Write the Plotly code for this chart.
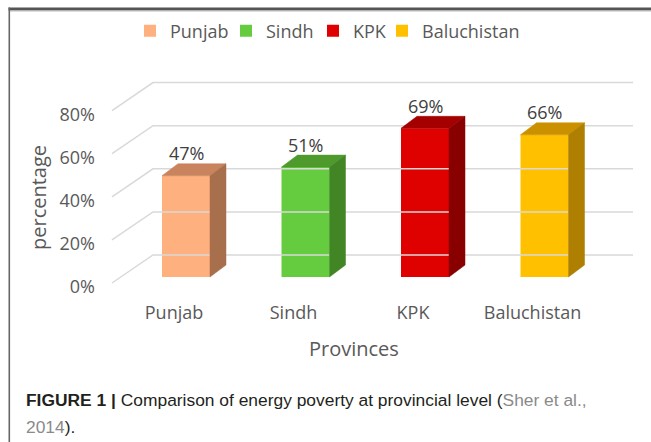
import plotly.graph_objects as go

# ---------------- data ----------------
provinces = ["Punjab", "Sindh", "KPK", "Baluchistan"]
values = [47, 51, 69, 66]
value_labels = ["47%", "51%", "69%", "66%"]
front_colors = ["#FFB07F", "#66CC3F", "#DF0000", "#FFC000"]
top_colors = ["#C9835D", "#4E9A2C", "#A50000", "#CB9000"]
side_colors = ["#A86F4C", "#418524", "#880000", "#AE7F00"]
y_ticks = [0, 20, 40, 60, 80]
y_tick_labels = ["0%", "20%", "40%", "60%", "80%"]

# ---------------- geometry (oblique 3-D look) ----------------
W, H = 651, 442
L, R, T, B = 98, 645, 60, 300          # plot area in px
PX_X = 119.5                            # px per category
PX_Y = 2.155                            # px per percent
X0_PX = 174                             # px of first category
Y0_PX = 283                             # px of 0% on front plane

xr = [(L - X0_PX) / PX_X, (R - X0_PX) / PX_X]
yr = [(Y0_PX - B) / PX_Y, (Y0_PX - T) / PX_Y]

wall_dx = 41 / PX_X
wall_dy = 28 / PX_Y
grid_x_front = (112 - X0_PX) / PX_X
grid_x_right = (633 - X0_PX) / PX_X

bar_shift = 12 / PX_X
bar_w = 48 / PX_X
bar_base = 6 / PX_Y
depth_dx = 16 / PX_X
depth_dy = 12 / PX_Y

# legend entry left edges (px) of the colour squares
legend_square_px = [147, 243, 330, 399]

TXT = "#595959"
FONT = "Open Sans, Noto Sans, sans-serif"


def px_x(p):
    return (p - L) / (R - L)


def px_y(p):
    return (B - p) / (B - T)


fig = go.Figure()

# gridlines: front diagonal + back wall horizontal
gx, gy = [], []
for v in y_ticks:
    gx += [grid_x_front, grid_x_front + wall_dx, grid_x_right, None]
    gy += [v, v + wall_dy, v + wall_dy, None]
fig.add_trace(go.Scatter(x=gx, y=gy, mode="lines", line=dict(color="#D9D9D9", width=1.5),
                         hoverinfo="skip", showlegend=False))

# bars: front faces (legend), top and side faces
legend_keys = ["legend", "legend2", "legend3", "legend4"]
for i, (name, v) in enumerate(zip(provinces, values)):
    xc = i + bar_shift
    fig.add_trace(go.Bar(x=[xc], y=[v], base=[bar_base], width=[bar_w], name=name,
                         legend=legend_keys[i],
                         marker=dict(color=front_colors[i], line=dict(width=0))))
for i, v in enumerate(values):
    xc = i + bar_shift
    xl, xrt = xc - bar_w / 2, xc + bar_w / 2
    top = bar_base + v
    fig.add_trace(go.Scatter(
        x=[xl, xrt, xrt + depth_dx, xl + depth_dx, xl],
        y=[top, top, top + depth_dy, top + depth_dy, top],
        mode="lines", fill="toself", fillcolor=top_colors[i],
        line=dict(color=top_colors[i], width=0.5), hoverinfo="skip", showlegend=False))
    fig.add_trace(go.Scatter(
        x=[xrt, xrt + depth_dx, xrt + depth_dx, xrt, xrt],
        y=[bar_base, bar_base + depth_dy, top + depth_dy, top, bar_base],
        mode="lines", fill="toself", fillcolor=side_colors[i],
        line=dict(color=side_colors[i], width=0.5), hoverinfo="skip", showlegend=False))

annotations = []
# data labels
for i, v in enumerate(values):
    annotations.append(dict(x=i + bar_shift, y=bar_base + v + depth_dy, xref="x", yref="y",
                            text=value_labels[i], showarrow=False, yanchor="middle", yshift=10.5,
                            font=dict(family=FONT, size=18, color="#404040")))

# axis titles
annotations.append(dict(x=px_x(354), y=px_y(348), xref="paper", yref="paper", text="Provinces",
                        showarrow=False, xanchor="center", yanchor="middle",
                        font=dict(family=FONT, size=20, color=TXT)))
annotations.append(dict(x=px_x(38), y=px_y(198), xref="paper", yref="paper", text="percentage",
                        showarrow=False, textangle=-90, xanchor="center", yanchor="middle",
                        font=dict(family=FONT, size=20, color=TXT)))

# caption
CAP_FONT = "Liberation Sans Narrow, Liberation Sans, Arial, sans-serif"
annotations.append(dict(x=px_x(24), y=px_y(400), xref="paper", yref="paper",
                        text="<b>FIGURE 1 |</b> Comparison of energy poverty at provincial level "
                             "(<span style='color:#8a8a8a'>Sher et al.,</span>",
                        showarrow=False, xanchor="left", yanchor="middle",
                        font=dict(family=CAP_FONT, size=17.4, color="#231F20")))
annotations.append(dict(x=px_x(24), y=px_y(427), xref="paper", yref="paper",
                        text="<span style='color:#8a8a8a'>2014</span>).",
                        showarrow=False, xanchor="left", yanchor="middle",
                        font=dict(family=CAP_FONT, size=17.4, color="#231F20")))

# page frame (top rule + left rule)
shapes = [
    dict(type="line", xref="paper", yref="paper", x0=px_x(8.5), x1=px_x(651), y0=px_y(9), y1=px_y(9),
         line=dict(color="#555555", width=3), layer="above"),
    dict(type="line", xref="paper", yref="paper", x0=px_x(10), x1=px_x(651), y0=px_y(11), y1=px_y(11),
         line=dict(color="#BBBBBB", width=1), layer="above"),
    dict(type="line", xref="paper", yref="paper", x0=px_x(9.3), x1=px_x(9.3), y0=px_y(7.5), y1=px_y(442),
         line=dict(color="#666666", width=1.6), layer="above"),
]

legends = {}
for i, key in enumerate(legend_keys):
    legends[key] = dict(orientation="h", x=px_x(legend_square_px[i] - 17), xanchor="left",
                        y=px_y(31), yanchor="middle",
                        font=dict(family=FONT, size=18, color=TXT), bgcolor="rgba(0,0,0,0)",
                        itemwidth=30, tracegroupgap=0)

fig.update_layout(
    width=W, height=H,
    margin=dict(l=L, r=W - R, t=T, b=H - B, pad=0),
    paper_bgcolor="white", plot_bgcolor="white",
    barmode="overlay",
    showlegend=True,
    xaxis=dict(range=xr, tickvals=list(range(len(provinces))), ticktext=provinces,
               showgrid=False, zeroline=False, showline=False, ticks="",
               tickfont=dict(family=FONT, size=18, color=TXT), fixedrange=True),
    yaxis=dict(range=yr, tickvals=y_ticks, ticktext=y_tick_labels,
               showgrid=False, zeroline=False, showline=False, ticks="",
               ticklabelshift=4, ticklabelstandoff=2,
               tickfont=dict(family=FONT, size=18, color=TXT), fixedrange=True),
    annotations=annotations,
    shapes=shapes,
    **legends,
)

fig.write_html("out.html", config={"displayModeBar": False},
               post_script="document.body.style.margin='0';")
